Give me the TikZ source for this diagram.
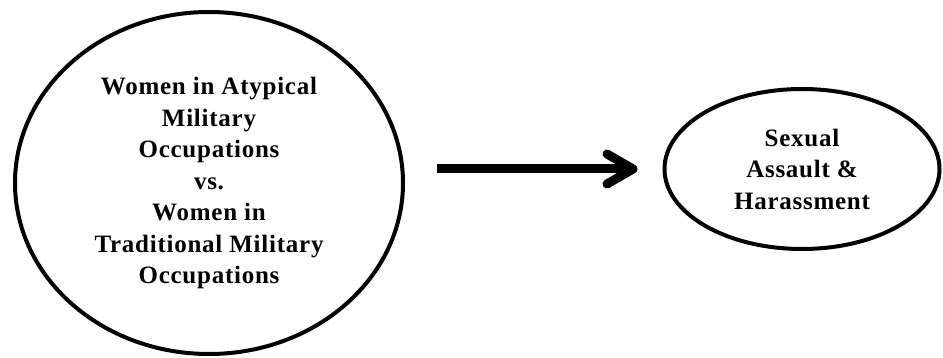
\documentclass[tikz,border=0pt]{standalone}
\usepackage{fontspec}
\setmainfont{Liberation Serif}[BoldFont={Liberation Serif Bold}]
\newfontfamily\lblfont{Liberation Serif Bold}[LetterSpace=3]
\usetikzlibrary{shapes.geometric,arrows.meta}
\begin{document}
\begin{tikzpicture}[x=1pt,y=-1pt,
  oval/.style={ellipse, draw=black, line width=4pt, inner sep=0pt, align=center,
    font=\lblfont\fontsize{25}{31.5}\selectfont},
  bigarrow/.style={line width=9pt, -{Straight Barb[length=26pt,width=30pt,round]}}]
\useasboundingbox (0,0) rectangle (943,358);
\node[oval, minimum width=388pt, minimum height=342pt] (L) at (209,183)
  {Women in Atypical\\Military\\Occupations\\vs.\\Women in\\Traditional Military\\Occupations};
\node[oval, minimum width=275pt, minimum height=160pt] (R) at (802,169)
  {Sexual\\Assault \&\\Harassment};
\draw[bigarrow, shorten <=32pt, shorten >=25pt] (L.east |- R.west) -- (R.west);
\end{tikzpicture}
\end{document}
